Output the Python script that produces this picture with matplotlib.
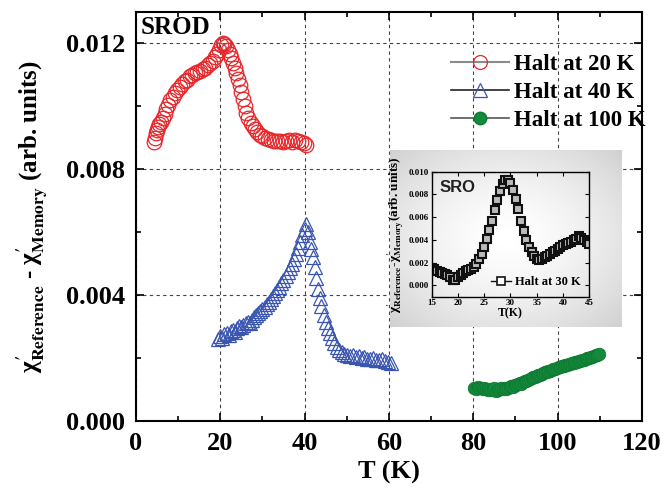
import matplotlib
matplotlib.use("Agg")
import matplotlib.pyplot as plt
import numpy as np

# Halt at 20 K (red open circles)
t20 = [4.2, 4.5, 4.8, 5.0, 5.3, 5.6, 6.0, 6.4, 6.8, 7.2, 7.7, 8.2, 8.7, 9.2, 9.8,
       10.4, 11.0, 11.6, 12.2, 12.8, 13.4, 14.0, 14.6, 15.2, 15.8, 16.4, 17.0, 17.6,
       18.2, 18.8, 19.3, 19.8, 20.2, 20.6, 21.0, 21.4, 21.8, 22.2, 22.6, 23.0, 23.4,
       23.8, 24.2, 24.6, 25.0, 25.4, 25.8, 26.2, 26.7, 27.2, 27.7, 28.2, 28.8, 29.4,
       30.0, 30.7, 31.4, 32.1, 32.8, 33.5, 34.2, 34.9, 35.6, 36.3, 37.0, 37.7, 38.4,
       39.1, 39.8, 40.3]
d20 = [0.00885, 0.00900, 0.00915, 0.00925, 0.00935, 0.00945, 0.00950, 0.00962, 0.00975,
       0.00990, 0.01005, 0.01020, 0.01030, 0.01042, 0.01052, 0.01060, 0.01072, 0.01080,
       0.01085, 0.01095, 0.01100, 0.01105, 0.01110, 0.01112, 0.01118, 0.01122, 0.01130,
       0.01138, 0.01145, 0.01155, 0.01165, 0.01180, 0.01195, 0.01202, 0.01198, 0.01190,
       0.01178, 0.01165, 0.01152, 0.01138, 0.01122, 0.01105, 0.01088, 0.01068, 0.01045,
       0.01022, 0.01000, 0.00980, 0.00962, 0.00948, 0.00938, 0.00928, 0.00918, 0.00910,
       0.00905, 0.00900, 0.00895, 0.00892, 0.00890, 0.00888, 0.00890, 0.00885, 0.00888,
       0.00892, 0.00887, 0.00893, 0.00888, 0.00885, 0.00882, 0.00878]

# Halt at 40 K (blue open triangles)
t40 = [19.5, 20.0, 20.5, 21.0, 21.5, 22.0, 22.5, 23.0, 23.5, 24.0, 24.5, 25.0, 25.5,
       26.0, 26.5, 27.0, 27.5, 28.0, 28.5, 29.0, 29.5, 30.0, 30.5, 31.0, 31.5, 32.0,
       32.5, 33.0, 33.5, 34.0, 34.5, 35.0, 35.5, 36.0, 36.5, 37.0, 37.5, 38.0, 38.5,
       39.0, 39.5, 40.0, 40.4, 40.8, 41.2, 41.6, 42.0, 42.4, 42.8, 43.2, 43.6, 44.0,
       44.5, 45.0, 45.5, 46.0, 46.5, 47.0, 47.6, 48.2, 48.8, 49.4, 50.0, 50.7, 51.4,
       52.1, 52.8, 53.5, 54.2, 54.9, 55.6, 56.3, 57.0, 57.7, 58.4, 59.1, 59.8, 60.4]
d40 = [0.00260, 0.00270, 0.00265, 0.00275, 0.00280, 0.00272, 0.00285, 0.00290, 0.00282,
       0.00295, 0.00300, 0.00298, 0.00305, 0.00310, 0.00315, 0.00312, 0.00322, 0.00330,
       0.00335, 0.00342, 0.00350, 0.00355, 0.00362, 0.00370, 0.00378, 0.00388, 0.00398,
       0.00405, 0.00415, 0.00425, 0.00438, 0.00448, 0.00460, 0.00472, 0.00485, 0.00500,
       0.00515, 0.00530, 0.00550, 0.00570, 0.00590, 0.00610, 0.00625, 0.00600, 0.00570,
       0.00545, 0.00520, 0.00490, 0.00455, 0.00420, 0.00392, 0.00365, 0.00338, 0.00315,
       0.00295, 0.00278, 0.00262, 0.00248, 0.00235, 0.00225, 0.00218, 0.00212, 0.00208,
       0.00205, 0.00210, 0.00202, 0.00206, 0.00200, 0.00204, 0.00198, 0.00196, 0.00200,
       0.00194, 0.00192, 0.00196, 0.00190, 0.00188, 0.00185]

# Halt at 100 K (green filled circles)
t100 = [80.2, 80.6, 81.0, 81.4, 81.8, 82.2, 82.6, 83.0, 83.4, 83.8, 84.2, 84.6, 85.0,
        85.4, 85.8, 86.2, 86.6, 87.0, 87.4, 87.8, 88.2, 88.6, 89.0, 89.4, 89.8, 90.2,
        90.6, 91.0, 91.4, 91.8, 92.2, 92.6, 93.0, 93.4, 93.8, 94.2, 94.6, 95.0, 95.4,
        95.8, 96.2, 96.6, 97.0, 97.4, 97.8, 98.2, 98.6, 99.0, 99.4, 99.8, 100.2, 100.6,
        101.0, 101.4, 101.8, 102.2, 102.6, 103.0, 103.4, 103.8, 104.2, 104.6, 105.0,
        105.4, 105.8, 106.2, 106.6, 107.0, 107.4, 107.8, 108.2, 108.6, 109.0, 109.4, 109.8]
d100 = [0.00105, 0.00100, 0.00108, 0.00103, 0.00106, 0.00101, 0.00104, 0.00100, 0.00098,
        0.00102, 0.00097, 0.00100, 0.00104, 0.00096, 0.00099, 0.00100, 0.00103, 0.00100,
        0.00104, 0.00102, 0.00106, 0.00108, 0.00110, 0.00108, 0.00113, 0.00115, 0.00117,
        0.00120, 0.00118, 0.00123, 0.00126, 0.00128, 0.00131, 0.00133, 0.00136, 0.00138,
        0.00140, 0.00142, 0.00145, 0.00147, 0.00149, 0.00151, 0.00154, 0.00156, 0.00158,
        0.00160, 0.00162, 0.00165, 0.00166, 0.00168, 0.00171, 0.00172, 0.00175, 0.00176,
        0.00178, 0.00179, 0.00181, 0.00182, 0.00184, 0.00185, 0.00187, 0.00188, 0.00190,
        0.00191, 0.00193, 0.00195, 0.00197, 0.00199, 0.00201, 0.00203, 0.00204, 0.00206,
        0.00208, 0.00210, 0.00212]

# inset: SRO, halt at 30 K
t30 = [15.0, 15.5, 16.0, 16.5, 17.0, 17.5, 18.0, 18.5, 19.0, 19.5, 20.0, 20.5, 21.0,
       21.5, 22.0, 22.5, 23.0, 23.5, 24.0, 24.5, 25.0, 25.5, 26.0, 26.5, 27.0, 27.5,
       28.0, 28.5, 29.0, 29.5, 30.0, 30.5, 31.0, 31.5, 32.0, 32.5, 33.0, 33.5, 34.0,
       34.5, 35.0, 35.5, 36.0, 36.5, 37.0, 37.5, 38.0, 38.5, 39.0, 39.5, 40.0, 40.5,
       41.0, 41.5, 42.0, 42.5, 43.0, 43.5, 44.0, 44.5, 45.0]
d30 = [0.00150, 0.00140, 0.00130, 0.00120, 0.00110, 0.00100, 0.00090, 0.00070, 0.00050,
       0.00045, 0.00070, 0.00095, 0.00110, 0.00125, 0.00135, 0.00145, 0.00160, 0.00185,
       0.00230, 0.00280, 0.00340, 0.00410, 0.00490, 0.00570, 0.00660, 0.00750, 0.00830,
       0.00890, 0.00925, 0.00930, 0.00900, 0.00840, 0.00760, 0.00670, 0.00570, 0.00480,
       0.00400, 0.00340, 0.00290, 0.00255, 0.00230, 0.00220, 0.00230, 0.00245, 0.00260,
       0.00275, 0.00290, 0.00305, 0.00320, 0.00340, 0.00355, 0.00365, 0.00375, 0.00380,
       0.00395, 0.00410, 0.00435, 0.00420, 0.00400, 0.00380, 0.00360]

plt.rcParams['font.family'] = ['Liberation Serif', 'DejaVu Serif']
plt.rcParams['font.weight'] = 'bold'
plt.rcParams['mathtext.fontset'] = 'stix'

ylab = r"χ$^{\mathbf{\prime}}_{\mathbf{Reference}}$ - χ$^{\mathbf{\prime}}_{\mathbf{Memory}}$ (arb. units)"
ylab_in = r"χ$^{\mathbf{\prime}}_{\mathbf{Reference}}$-χ$^{\mathbf{\prime}}_{\mathbf{Memory}}$(arb. units)"

fig = plt.figure(figsize=(6.66, 4.94), dpi=100)
ax = fig.add_axes([0.204, 0.148, 0.76, 0.828])

ax.plot(t20, d20, 'o', ms=10.5, mfc='none', mec='#e8262a', mew=0.9, zorder=3)
ax.plot(t40, d40, '^', ms=10.5, mfc='none', mec='#3a56b0', mew=0.9, zorder=3)
ax.plot(t100, d100, 'o', ms=9, mfc='#148a3c', mec='#0f7a32', mew=0.6, zorder=3)

ax.set_xlim(0, 120)
ax.set_ylim(0, 0.013)
ax.set_xticks([0, 20, 40, 60, 80, 100, 120])
ax.set_xticks([10, 30, 50, 70, 90, 110], minor=True)
ax.set_yticks([0.000, 0.004, 0.008, 0.012])
ax.set_yticklabels(['0.000', '0.004', '0.008', '0.012'])
ax.set_yticks([0.002, 0.006, 0.010], minor=True)
ax.tick_params(which='both', direction='in', top=True, right=True, labelsize=19, width=1.2)
ax.tick_params(which='major', length=6, pad=8)
ax.tick_params(which='minor', length=3.5)
for s in ax.spines.values():
    s.set_linewidth(1.5)
ax.grid(True, which='major', linestyle=(0, (3, 3)), color='#444444', linewidth=0.8)
ax.set_axisbelow(True)

ax.set_xlabel('T (K)', fontsize=19, fontweight='bold', labelpad=4)
ax.set_ylabel(ylab, fontsize=18, fontweight='bold', labelpad=12)
ax.text(0.01, 0.99, 'SROD', transform=ax.transAxes, fontsize=18,
        fontweight='bold', va='top', ha='left')

h1, = ax.plot([], [], '-o', color='#8a8a8a', lw=1.5, ms=10, mfc='none', mec='#e8262a', mew=0.9)
h2, = ax.plot([], [], '-^', color='#222222', lw=1.2, ms=10, mfc='none', mec='#3a56b0', mew=0.9)
h3, = ax.plot([], [], '-o', color='#555555', lw=1.2, ms=9, mfc='#148a3c', mec='#0f7a32')
leg = ax.legend([h1, h2, h3], ['Halt at 20 K', 'Halt at 40 K', 'Halt at 100 K'],
                loc='upper left', bbox_to_anchor=(440 / 666, 1 - 43 / 494),
                bbox_transform=fig.transFigure, frameon=False, fontsize=16.5,
                handlelength=2.5, handletextpad=0.25, labelspacing=0.3, borderpad=0)

# inset background box with soft gradient
bg = fig.add_axes([390 / 666, 1 - 327 / 494, 232 / 666, 177 / 494])
yy, xx = np.mgrid[-1:1:200j, -1:1:260j]
rr = np.sqrt(xx ** 2 + yy ** 2)
bg.imshow(1.0 - 0.11 * np.clip(rr, 0, 1.4) ** 1.5, cmap='gray', vmin=0, vmax=1,
          aspect='auto', extent=[0, 1, 0, 1])
bg.set_axis_off()

ins = fig.add_axes([431.7 / 666, 1 - 296.7 / 494, 157.6 / 666, 125 / 494])
ins.patch.set_alpha(0)
ins.plot(t30, d30, 's', ms=6, mfc='#bbbbbb', mec='#111111', mew=1.5)
ins.set_xlim(15, 45)
ins.set_ylim(-0.001, 0.010)
ins.set_xticks([15, 20, 25, 30, 35, 40, 45])
ins.set_yticks([0.000, 0.002, 0.004, 0.006, 0.008, 0.010])
ins.set_yticklabels(['0.000', '0.002', '0.004', '0.006', '0.008', '0.010'])
ins.tick_params(direction='in', labelsize=6.5, length=3, width=0.8, pad=2, top=True, right=True)
for s in ins.spines.values():
    s.set_linewidth(1.0)
ins.set_xlabel('T(K)', fontsize=8.5, fontweight='bold', labelpad=0)
ins.set_ylabel(ylab_in, fontsize=9.5, fontweight='bold', labelpad=2)
ins.text(0.05, 0.93, 'SRO', transform=ins.transAxes, fontsize=12,
         fontweight='bold', family='Liberation Sans', va='top', ha='left', color='#222222')
h4, = ins.plot([], [], '-s', color='#111111', lw=1.0, ms=6, mfc='white', mec='#111111', mew=1.2)
ins.legend([h4], ['Halt at 30 K'], loc='lower right', frameon=False, fontsize=9,
           handlelength=1.6, handletextpad=0.3, borderpad=0.2)

fig.savefig('out.png', dpi=100)
